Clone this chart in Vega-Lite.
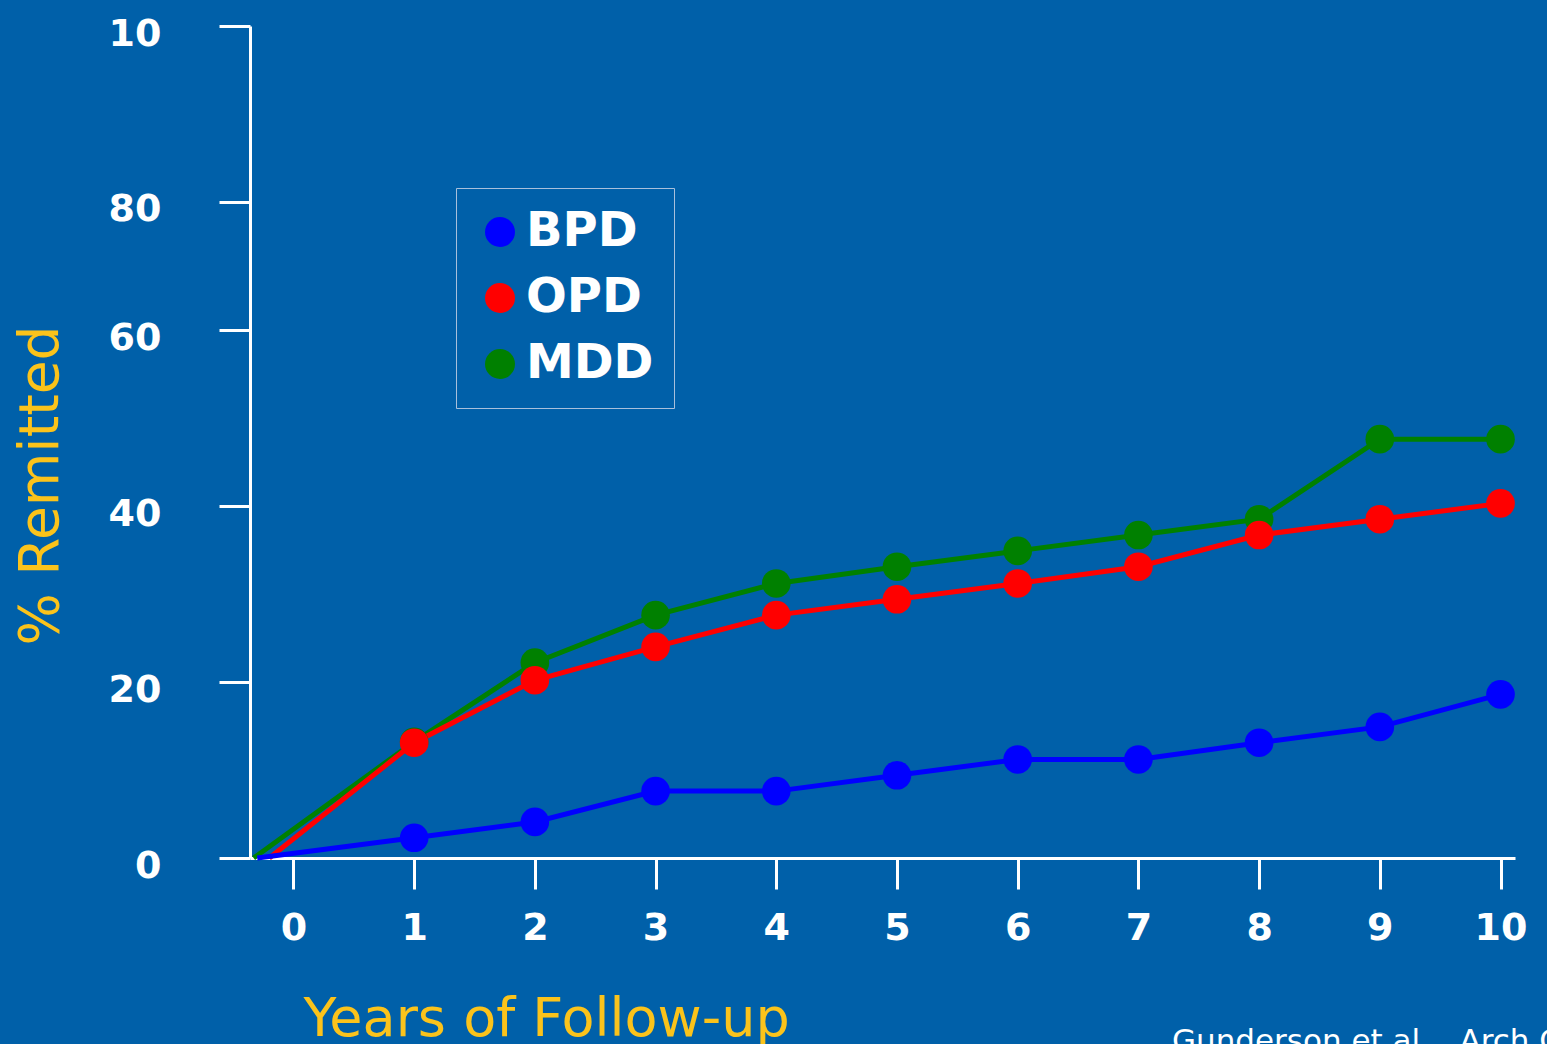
{
  "$schema": "https://vega.github.io/schema/vega-lite/v6.json",
  "width": 1265,
  "height": 832,
  "autosize": "none",
  "padding": {"left": 250, "top": 26, "right": 32, "bottom": 186},
  "background": "#0060A9",
  "config": {
    "view": {"stroke": null},
    "font": "DejaVu Sans"
  },
  "title": {
    "text": "Gunderson et al.,\u00a0 Arch Gen Psychiatry 2011",
    "orient": "bottom",
    "anchor": "start",
    "frame": "group",
    "dx": 922,
    "dy": -23,
    "color": "white",
    "font": "DejaVu Sans",
    "fontSize": 31,
    "fontWeight": "normal"
  },
  "data": {
    "values": [
      {"group": "MDD", "year": -0.33, "pct": 0, "marker": false},
      {"group": "MDD", "year": 1, "pct": 13.2, "marker": true},
      {"group": "MDD", "year": 2, "pct": 22.2, "marker": true},
      {"group": "MDD", "year": 3, "pct": 27.6, "marker": true},
      {"group": "MDD", "year": 4, "pct": 31.2, "marker": true},
      {"group": "MDD", "year": 5, "pct": 33.1, "marker": true},
      {"group": "MDD", "year": 6, "pct": 34.9, "marker": true},
      {"group": "MDD", "year": 7, "pct": 36.7, "marker": true},
      {"group": "MDD", "year": 8, "pct": 38.5, "marker": true},
      {"group": "MDD", "year": 9, "pct": 47.6, "marker": true},
      {"group": "MDD", "year": 10, "pct": 47.6, "marker": true},
      {"group": "OPD", "year": -0.2, "pct": 0, "marker": false},
      {"group": "OPD", "year": 1, "pct": 13.1, "marker": true},
      {"group": "OPD", "year": 2, "pct": 20.2, "marker": true},
      {"group": "OPD", "year": 3, "pct": 24.0, "marker": true},
      {"group": "OPD", "year": 4, "pct": 27.6, "marker": true},
      {"group": "OPD", "year": 5, "pct": 29.4, "marker": true},
      {"group": "OPD", "year": 6, "pct": 31.2, "marker": true},
      {"group": "OPD", "year": 7, "pct": 33.1, "marker": true},
      {"group": "OPD", "year": 8, "pct": 36.7, "marker": true},
      {"group": "OPD", "year": 9, "pct": 38.5, "marker": true},
      {"group": "OPD", "year": 10, "pct": 40.3, "marker": true},
      {"group": "BPD", "year": -0.3, "pct": 0, "marker": false},
      {"group": "BPD", "year": 1, "pct": 2.3, "marker": true},
      {"group": "BPD", "year": 2, "pct": 4.1, "marker": true},
      {"group": "BPD", "year": 3, "pct": 7.6, "marker": true},
      {"group": "BPD", "year": 4, "pct": 7.6, "marker": true},
      {"group": "BPD", "year": 5, "pct": 9.4, "marker": true},
      {"group": "BPD", "year": 6, "pct": 11.2, "marker": true},
      {"group": "BPD", "year": 7, "pct": 11.2, "marker": true},
      {"group": "BPD", "year": 8, "pct": 13.1, "marker": true},
      {"group": "BPD", "year": 9, "pct": 14.9, "marker": true},
      {"group": "BPD", "year": 10, "pct": 18.6, "marker": true}
    ]
  },
  "encoding": {
    "x": {
      "field": "year",
      "type": "quantitative",
      "scale": {"domain": [-0.36, 10.12], "nice": false, "zero": false},
      "axis": {
        "values": [0, 1, 2, 3, 4, 5, 6, 7, 8, 9, 10],
        "grid": false,
        "domainColor": "white",
        "domainWidth": 3,
        "tickColor": "white",
        "tickWidth": 3,
        "tickSize": 31,
        "labelColor": "white",
        "labelFont": "DejaVu Sans",
        "labelFontWeight": "bold",
        "labelFontSize": 38,
        "labelPadding": 20,
        "labelBaseline": "top",
        "labelFlush": false,
        "labelOverlap": false,
        "title": "Years of Follow-up",
        "titleColor": "#FBC31B",
        "titleFont": "DejaVu Sans",
        "titleFontWeight": "normal",
        "titleFontSize": 54,
        "titleAlign": "left",
        "titleBaseline": "alphabetic",
        "titleX": 53,
        "titleY": 177
      }
    },
    "y": {
      "field": "pct",
      "type": "quantitative",
      "scale": {"domain": [0, 94.55], "nice": false},
      "axis": {
        "values": [0, 20, 40, 60, 74.55, 94.55],
        "labelExpr": "datum.value > 90 ? '10' : datum.value > 70 ? '80' : datum.label",
        "grid": false,
        "domainColor": "white",
        "domainWidth": 3,
        "tickColor": "white",
        "tickWidth": 3,
        "tickSize": 31,
        "labelColor": "white",
        "labelFont": "DejaVu Sans",
        "labelFontWeight": "bold",
        "labelFontSize": 38,
        "labelPadding": 58,
        "labelOffset": 8,
        "labelBaseline": "middle",
        "labelFlush": false,
        "labelOverlap": false,
        "title": "% Remitted",
        "titleColor": "#FBC31B",
        "titleFont": "DejaVu Sans",
        "titleFontWeight": "normal",
        "titleFontSize": 55,
        "titleAngle": -90,
        "titleAlign": "center",
        "titleBaseline": "alphabetic",
        "titleX": -193,
        "titleY": 459
      }
    },
    "color": {
      "field": "group",
      "type": "nominal",
      "scale": {"domain": ["BPD", "OPD", "MDD"], "range": ["#0000FF", "#FF0000", "#008000"]},
      "legend": {
        "title": null,
        "orient": "none",
        "legendX": 206,
        "legendY": 162,
        "direction": "vertical",
        "padding": 20,
        "strokeColor": "#A8C0DC",
        "symbolType": "circle",
        "symbolSize": 900,
        "symbolStrokeWidth": 0,
        "symbolOpacity": 1,
        "labelColor": "white",
        "labelFont": "DejaVu Sans",
        "labelFontWeight": "bold",
        "labelFontSize": 48,
        "labelOffset": 2,
        "labelLimit": 400,
        "labelExpr": "datum.label + '\u00a0\u00a0'",
        "rowPadding": 18
      }
    }
  },
  "layer": [
    {
      "mark": {"type": "line", "strokeWidth": 5}
    },
    {
      "transform": [{"filter": "datum.marker"}],
      "mark": {"type": "point", "filled": true, "shape": "circle", "size": 820, "opacity": 1, "strokeWidth": 0}
    }
  ]
}
